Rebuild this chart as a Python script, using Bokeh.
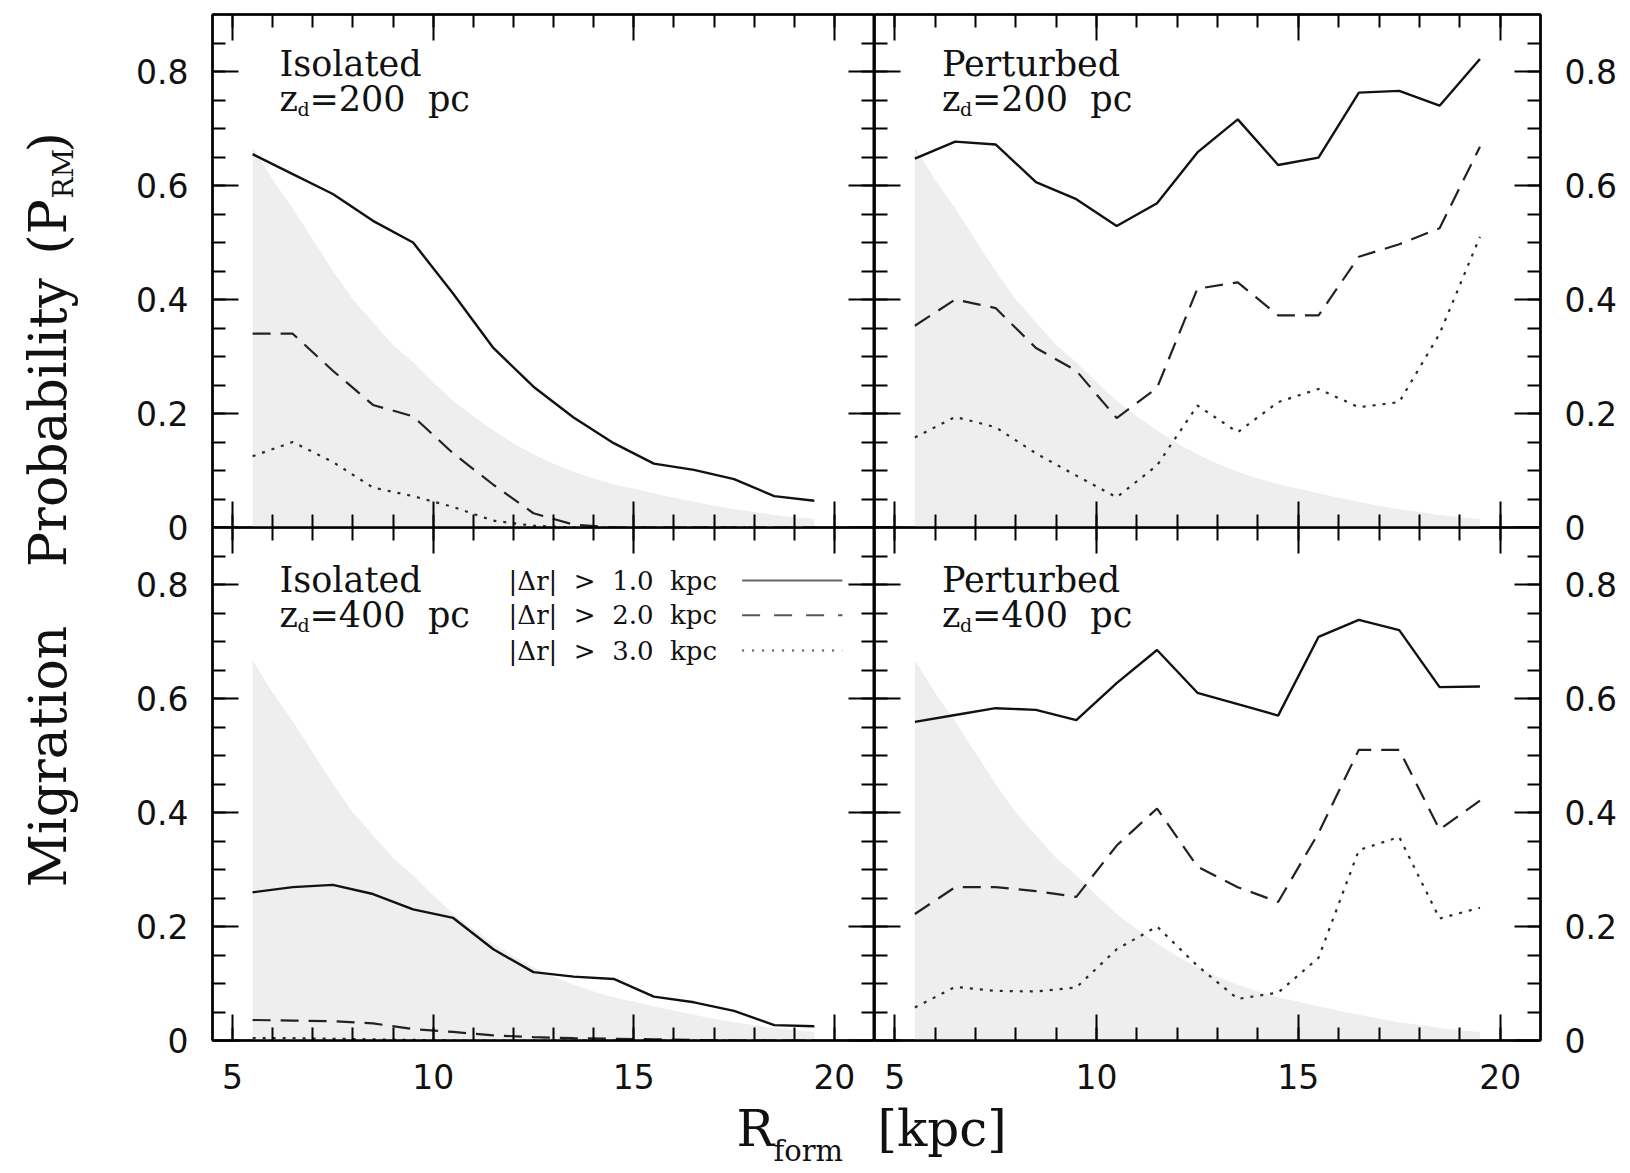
import math
from bokeh.plotting import figure
from bokeh.models import Range1d, LinearAxis, FixedTicker, Label
from bokeh.layouts import row, column
from bokeh.embed import file_html
from bokeh.resources import INLINE

# ---------------- data ----------------
R_form = [5.5, 6.5, 7.5, 8.5, 9.5, 10.5, 11.5, 12.5, 13.5, 14.5, 15.5, 16.5, 17.5, 18.5, 19.5]

iso200_dr1 = [0.655, 0.62, 0.585, 0.538, 0.50, 0.41, 0.315, 0.247, 0.193, 0.148, 0.112, 0.101, 0.085, 0.055, 0.047]
iso200_dr2 = [0.34, 0.34, 0.275, 0.215, 0.195, 0.13, 0.075, 0.025, 0.005, 0.0, 0.0, 0.0, 0.0, 0.0, 0.0]
iso200_dr3 = [0.125, 0.15, 0.115, 0.07, 0.055, 0.036, 0.012, 0.003, 0.0, 0.0, 0.0, 0.0, 0.0, 0.0, 0.0]

pert200_dr1 = [0.647, 0.677, 0.672, 0.606, 0.576, 0.529, 0.569, 0.658, 0.716, 0.636, 0.649, 0.763, 0.766, 0.74, 0.822]
pert200_dr2 = [0.354, 0.40, 0.385, 0.315, 0.275, 0.192, 0.245, 0.419, 0.43, 0.372, 0.372, 0.475, 0.497, 0.525, 0.668]
pert200_dr3 = [0.158, 0.194, 0.176, 0.13, 0.091, 0.053, 0.109, 0.214, 0.167, 0.22, 0.243, 0.211, 0.22, 0.34, 0.51]

iso400_dr1 = [0.26, 0.269, 0.273, 0.257, 0.23, 0.215, 0.16, 0.12, 0.112, 0.108, 0.077, 0.067, 0.052, 0.027, 0.025]
iso400_dr2 = [0.036, 0.035, 0.034, 0.03, 0.02, 0.015, 0.009, 0.006, 0.004, 0.003, 0.002, 0.001, 0.0, 0.0, 0.0]
iso400_dr3 = [0.004, 0.004, 0.003, 0.002, 0.001, 0.0, 0.0, 0.0, 0.0, 0.0, 0.0, 0.0, 0.0, 0.0, 0.0]

pert400_dr1 = [0.559, 0.571, 0.583, 0.58, 0.562, 0.627, 0.685, 0.61, 0.59, 0.57, 0.708, 0.738, 0.72, 0.62, 0.621]
pert400_dr2 = [0.222, 0.269, 0.269, 0.262, 0.252, 0.342, 0.407, 0.305, 0.269, 0.243, 0.364, 0.51, 0.51, 0.37, 0.421]
pert400_dr3 = [0.058, 0.094, 0.087, 0.086, 0.093, 0.16, 0.2, 0.131, 0.073, 0.084, 0.145, 0.334, 0.357, 0.214, 0.233]

# grey band (reference profile)
shade_R = [5.5, 6.0, 6.5, 7.0, 7.5, 8.0, 8.5, 9.0, 9.5, 10.0, 10.5, 11.0, 11.5, 12.0, 12.5,
           13.0, 13.5, 14.0, 14.5, 15.0, 15.5, 16.0, 16.5, 17.0, 17.5, 18.0, 18.5, 19.0, 19.5]
shade_P = [0.667, 0.61, 0.56, 0.505, 0.45, 0.40, 0.36, 0.32, 0.29, 0.255, 0.222, 0.195, 0.17, 0.148, 0.128,
           0.112, 0.098, 0.086, 0.076, 0.068, 0.06, 0.052, 0.045, 0.038, 0.032, 0.027, 0.022, 0.018, 0.015]

panel_kind = ["Isolated", "Perturbed", "Isolated", "Perturbed"]
panel_zd = ["200", "200", "400", "400"]
legend_labels = ["|\u0394r|\u00a0\u00a0>\u00a0\u00a01.0\u00a0\u00a0kpc",
                 "|\u0394r|\u00a0\u00a0>\u00a0\u00a02.0\u00a0\u00a0kpc",
                 "|\u0394r|\u00a0\u00a0>\u00a0\u00a03.0\u00a0\u00a0kpc"]

x_major = [5, 10, 15, 20]
x_minor = [5, 6, 7, 8, 9, 10, 11, 12, 13, 14, 15, 16, 17, 18, 19, 20]
x_labels = {5: "5", 10: "10", 15: "15", 20: "20"}
y_major = [0, 0.2, 0.4, 0.6, 0.8]
y_minor = [0.05, 0.1, 0.15, 0.2, 0.25, 0.3, 0.35, 0.4, 0.45, 0.5, 0.55, 0.6, 0.65, 0.7, 0.75, 0.8, 0.85]
y_labels = {0: "0", 0.2: "0.2", 0.4: "0.4", 0.6: "0.6", 0.8: "0.8"}

# ---------------- styles ----------------
SERIF = "DejaVu Serif"
SANS = "DejaVu Sans"
INK = "#111111"
styles = [dict(line_color="#111111", line_width=2.4),
          dict(line_color="#222222", line_width=2.2, line_dash="18 10"),
          dict(line_color="#2a2a2a", line_width=2.2, line_dash="3 7")]


def add_axis(p, dim, loc, labeled):
    if dim == "x":
        ticker = FixedTicker(ticks=x_major, minor_ticks=x_minor)
        labels = x_labels
    else:
        ticker = FixedTicker(ticks=y_major, minor_ticks=y_minor)
        labels = y_labels
    ax = LinearAxis(ticker=ticker,
                    axis_line_color="black", axis_line_width=2.5,
                    major_tick_in=26, major_tick_out=0, minor_tick_in=13, minor_tick_out=0,
                    major_tick_line_color="black", major_tick_line_width=2,
                    minor_tick_line_color="black", minor_tick_line_width=2)
    if labeled:
        ax.major_label_overrides = dict(labels)
        ax.major_label_text_font = SANS
        ax.major_label_text_font_size = "33px"
        ax.major_label_text_color = INK
        ax.major_label_standoff = 23 if dim == "x" else 24
    else:
        ax.major_label_overrides = {k: "" for k in labels}
        ax.major_label_text_font_size = "0px"
        ax.major_label_standoff = 0
    p.add_layout(ax, loc)


def make_panel(width, height, bl, br, bt, bb, left_lab, right_lab, bottom_lab, margin):
    p = figure(width=width, height=height, x_range=Range1d(4.5, 21.0), y_range=Range1d(0.0, 0.9),
               output_backend="svg", toolbar_location=None, title=None,
               x_axis_location=None, y_axis_location=None,
               min_border_left=bl, min_border_right=br, min_border_top=bt, min_border_bottom=bb,
               outline_line_color="black", outline_line_width=2,
               background_fill_color="white", border_fill_color=None, margin=margin)
    p.grid.visible = False
    add_axis(p, "y", "left", left_lab)
    add_axis(p, "y", "right", right_lab)
    add_axis(p, "x", "above", False)
    add_axis(p, "x", "below", bottom_lab)
    return p


# top panels overhang 20 px (transparent) so their "0" labels are not clipped
TL = make_panel(779, 547, 117, 0, 14, 20, True, False, False, (0, 0, -20, 0))
TR = make_panel(756, 547, 0, 90, 14, 20, False, True, False, (0, 0, -20, 0))
BL = make_panel(779, 573, 117, 0, 0, 60, True, False, True, (0, 0, 0, 0))
BR = make_panel(756, 573, 0, 90, 0, 60, False, True, True, (0, 0, 0, 0))

series = [
    (TL, [iso200_dr1, iso200_dr2, iso200_dr3]),
    (TR, [pert200_dr1, pert200_dr2, pert200_dr3]),
    (BL, [iso400_dr1, iso400_dr2, iso400_dr3]),
    (BR, [pert400_dr1, pert400_dr2, pert400_dr3]),
]
label_rows = [(0.813, 0.752), (0.813, 0.752), (0.808, 0.747), (0.808, 0.747)]

for i, (p, ys) in enumerate(series):
    p.varea(x=shade_R, y1=[0.0] * len(shade_R), y2=shade_P, fill_color="#eeeeee", fill_alpha=1.0)
    for y, st in zip(ys, styles):
        p.line(x=R_form, y=y, **st)
    y_kind, y_zd = label_rows[i]
    p.add_layout(Label(x=6.17, y=y_kind, text=panel_kind[i], text_font=SERIF, text_font_size="35px",
                       text_color=INK, text_align="left", text_baseline="middle"))
    p.add_layout(Label(x=6.17, y=y_zd, text="z", text_font=SERIF, text_font_size="35px",
                       text_color=INK, text_align="left", text_baseline="middle"))
    p.add_layout(Label(x=6.17, y=y_zd, x_offset=18, y_offset=-10, text="d", text_font=SERIF,
                       text_font_size="19px", text_color=INK, text_align="left", text_baseline="middle"))
    p.add_layout(Label(x=6.17, y=y_zd, x_offset=30, text="=" + panel_zd[i] + "\u00a0\u00a0pc", text_font=SERIF,
                       text_font_size="35px", text_color=INK, text_align="left", text_baseline="middle"))

# legend (bottom-left panel)
legend_text_x = 11.88
legend_key_x = [17.7, 20.2]
legend_rows = [0.807, 0.746, 0.684]
legend_styles = [dict(line_color="#666666", line_width=2),
                 dict(line_color="#555555", line_width=2, line_dash="18 14"),
                 dict(line_color="#555555", line_width=2, line_dash="2 8")]
for lab, yrow, st in zip(legend_labels, legend_rows, legend_styles):
    BL.add_layout(Label(x=legend_text_x, y=yrow, text=lab, text_font=SERIF, text_font_size="26px",
                        text_color=INK, text_align="left", text_baseline="middle"))
    BL.line(x=legend_key_x, y=[yrow, yrow], **st)

# y title column
YT = figure(width=95, height=1173, x_range=Range1d(0, 95), y_range=Range1d(1173, 0),
            output_backend="svg", toolbar_location=None, title=None,
            x_axis_location=None, y_axis_location=None, min_border=0,
            outline_line_color=None, background_fill_color="white", border_fill_color="white")
YT.grid.visible = False
ytitle_parts = [("Migration", 47, 756, "center", "52px"),
                ("Probability", 47, 422, "center", "52px"),
                ("(P", 47, 254, "left", "52px"),
                ("RM", 63, 198, "left", "28px"),
                (")", 47, 152, "left", "52px")]
for txt, xx, yy, al, fs in ytitle_parts:
    YT.add_layout(Label(x=xx, y=yy, text=txt, angle=math.pi / 2, text_font=SERIF, text_font_size=fs,
                        text_color=INK, text_align=al, text_baseline="middle"))

# x title row
XT = figure(width=1535, height=73, x_range=Range1d(95, 1630), y_range=Range1d(1173, 1100),
            output_backend="svg", toolbar_location=None, title=None,
            x_axis_location=None, y_axis_location=None, min_border=0,
            outline_line_color=None, background_fill_color="white", border_fill_color="white")
XT.grid.visible = False
xtitle_parts = [("R", 736, 1128, "50px"), ("form", 773, 1150, "29px"), ("[kpc]", 877, 1128, "50px")]
for txt, xx, yy, fs in xtitle_parts:
    XT.add_layout(Label(x=xx, y=yy, text=txt, text_font=SERIF, text_font_size=fs,
                        text_color=INK, text_align="left", text_baseline="middle"))

layout = row(YT, column(row(TL, TR), row(BL, BR), XT))

open("out.html", "w").write(file_html(layout, INLINE))
